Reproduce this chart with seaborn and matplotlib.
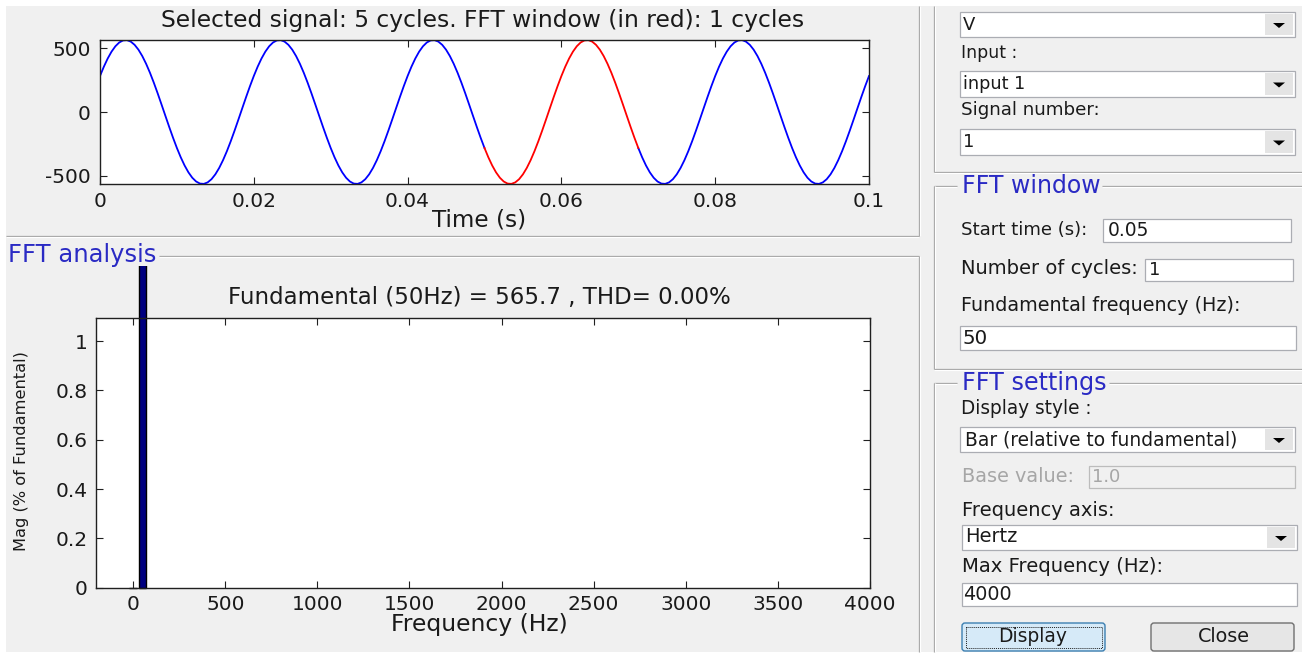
import numpy as np
import pandas as pd
import matplotlib
matplotlib.use("Agg")
import matplotlib.pyplot as plt
import seaborn as sns
from matplotlib.patches import Rectangle, FancyBboxPatch, Polygon
from matplotlib.transforms import Bbox, TransformedBbox

# ---------------- data ----------------
# one cycle of the 50 Hz signal sampled every 0.5 ms (V)
cycle_values = [282.9, 356.0, 420.4, 474.4, 516.8, 546.4, 562.6, 564.9, 553.3, 528.1,
                489.9, 439.6, 378.5, 308.1, 230.1, 146.4, 59.1, -29.6, -117.6, -202.7,
                -282.9, -356.0, -420.4, -474.4, -516.8, -546.4, -562.6, -564.9, -553.3, -528.1,
                -489.9, -439.6, -378.5, -308.1, -230.1, -146.4, -59.1, 29.6, 117.6, 202.7]
sample_step = 0.0005
n_cycles = 5
fundamental_hz = 50
fft_start = 0.05
fft_cycles = 1

fft_freqs = [0, 50]          # DC, fundamental
fft_mag = [0.0, 100.0]       # % of fundamental

time_ticks = [0, 0.02, 0.04, 0.06, 0.08, 0.1]
time_tick_labels = ["0", "0.02", "0.04", "0.06", "0.08", "0.1"]
volt_ticks = [-500, 0, 500]
volt_tick_labels = ["-500", "0", "500"]
freq_ticks = [0, 500, 1000, 1500, 2000, 2500, 3000, 3500, 4000]
freq_tick_labels = ["0", "500", "1000", "1500", "2000", "2500", "3000", "3500", "4000"]
mag_ticks = [0, 0.2, 0.4, 0.6, 0.8, 1]
mag_tick_labels = ["0", "0.2", "0.4", "0.6", "0.8", "1"]

top_title = "Selected signal: 5 cycles. FFT window (in red): 1 cycles"
bottom_title = "Fundamental (50Hz) = 565.7 , THD= 0.00%"

# ---------------- build tidy frame ----------------
signal = cycle_values * n_cycles + [cycle_values[0]]
t = np.arange(len(signal)) * sample_step
win_end = fft_start + fft_cycles / fundamental_hz
rows = []
for ti, vi in zip(t, signal):
    if ti <= fft_start + 1e-9:
        rows.append((ti, vi, "signal", 0))
    if fft_start - 1e-9 <= ti <= win_end + 1e-9:
        rows.append((ti, vi, "window", 1))
    if ti >= win_end - 1e-9:
        rows.append((ti, vi, "signal", 2))
df = pd.DataFrame(rows, columns=["t", "v", "part", "seg"])

# ---------------- figure ----------------
W, H = 1302, 653
fig = plt.figure(figsize=(W / 100, H / 100), dpi=100, facecolor="white")
renderer = fig.canvas.get_renderer()

bg = fig.add_axes([0, 0, 1, 1], zorder=-1)
bg.set_xlim(0, W)
bg.set_ylim(H, 0)
bg.axis("off")
bg.add_patch(Rectangle((6, 6), W - 6, 646, fc="#f0f0f0", ec="none"))

TXT = "#1a1a1a"
BLUE_T = "#2a2ac4"


def fit(txt, target, rotated=False):
    bb = txt.get_window_extent(renderer)
    cur = bb.height if rotated else bb.width
    txt.set_fontsize(txt.get_fontsize() * target / cur)


def label(x0, x1, yc, s, color=TXT, size=13):
    tx = bg.text(x0, yc, s, ha="left", va="center", color=color, fontsize=size)
    if x1 is not None:
        fit(tx, x1 - x0)
    return tx


def hline(x0, x1, y):
    bg.plot([x0, x1], [y, y], color="#a0a0a0", lw=0.9, solid_capstyle="butt")
    bg.plot([x0, x1], [y + 1.2, y + 1.2], color="white", lw=0.9, solid_capstyle="butt")


def vline(x, y0, y1):
    bg.plot([x, x], [y0, y1], color="#a0a0a0", lw=0.9, solid_capstyle="butt")
    bg.plot([x + 1.2, x + 1.2], [y0, y1], color="white", lw=0.9, solid_capstyle="butt")


def editbox(x0, y0, x1, y1, fc="white", ec="#abadb3"):
    bg.add_patch(Rectangle((x0, y0), x1 - x0, y1 - y0, fc=fc, ec=ec, lw=0.9))


def dropdown(x0, y0, x1, y1):
    editbox(x0, y0, x1, y1)
    bx0 = x1 - 30
    bg.add_patch(Rectangle((bx0, y0 + 2), x1 - 2 - bx0, y1 - y0 - 4, fc="#e4e4e4", ec="none"))
    cx = (bx0 + x1 - 2) / 2
    cy = (y0 + y1) / 2
    bg.add_patch(Polygon([[cx - 6, cy - 1.5], [cx + 6, cy - 1.5], [cx, cy + 3.5]],
                         closed=True, fc="black", ec="none"))


# panel borders
vline(919, 6, 236)
hline(6, 919, 236)
hline(159, 919, 256)
vline(919, 256, 652)
vline(934, 6, 172)
hline(934, 1302, 172)
hline(934, 957, 186)
hline(1102, 1302, 186)
vline(934, 186, 369)
hline(934, 1302, 369)
hline(934, 957, 383)
hline(1109, 1302, 383)
vline(934, 383, 652)

label(8, 156, 255, "FFT analysis", color=BLUE_T)
label(962, 1100, 186, "FFT window", color=BLUE_T)
label(962, 1106, 383, "FFT settings", color=BLUE_T)

# right-hand controls
dropdown(960, 12, 1295, 37)
label(963, None, 24.5, "V", size=13)
label(961, 1017, 53, "Input :")
dropdown(960, 71, 1295, 97)
label(963, 1025, 84, "input 1")
label(961, 1100, 110, "Signal number:")
dropdown(960, 129, 1295, 155)
label(963, None, 142, "1", size=13)

label(961, 1087, 230, "Start time (s):")
editbox(1103, 219, 1291, 242)
label(1108, 1149, 230.5, "0.05")
label(961, 1138, 269, "Number of cycles:")
editbox(1145, 259, 1293, 281)
label(1149, None, 270, "1", size=13)
label(961, 1240, 305.5, "Fundamental frequency (Hz):")
editbox(960, 326, 1296, 350)
label(963, 988, 338, "50")

label(961, 1092, 408, "Display style :")
dropdown(960, 427, 1295, 452)
label(965, 1237, 439.5, "Bar (relative to fundamental)")
label(962, 1074, 476, "Base value:", color="#a6a6a6")
editbox(1089, 466, 1295, 488, fc="#f0f0f0", ec="#bcbcbc")
label(1092, 1120, 477, "1.0", color="#a6a6a6")
label(962, 1114, 510, "Frequency axis:")
dropdown(962, 525, 1297, 550)
label(965, 1017, 537, "Hertz")
label(962, 1163, 566, "Max Frequency (Hz):")
editbox(962, 583, 1297, 606)
label(963, 1011, 594.5, "4000")

bg.add_patch(FancyBboxPatch((962, 623), 143, 28, boxstyle="round,pad=0,rounding_size=3",
                            fc="#d6eaf8", ec="#3c7fb1", lw=1.0))
bg.add_patch(Rectangle((965.5, 626.5), 136, 21, fill=False, ec="#202020",
                       ls=(0, (1, 1)), lw=0.7))
tx = bg.text(1032.5, 637, "Display", ha="center", va="center", color=TXT, fontsize=13)
fit(tx, 69)
bg.add_patch(FancyBboxPatch((1151, 623), 143, 28, boxstyle="round,pad=0,rounding_size=3",
                            fc="#e6e6e6", ec="#707070", lw=1.0))
tx = bg.text(1224, 637, "Close", ha="center", va="center", color=TXT, fontsize=13)
fit(tx, 52)

# ---------------- signal axes ----------------
def frac(x0, y0, x1, y1):
    return [x0 / W, 1 - y1 / H, (x1 - x0) / W, (y1 - y0) / H]


ax1 = fig.add_axes(frac(100, 40, 869, 184), zorder=1)
ax1.set_facecolor("white")
sns.lineplot(data=df, x="t", y="v", hue="part", units="seg", estimator=None,
             palette={"signal": "#0000ff", "window": "#ff0000"}, legend=False,
             sort=False, linewidth=1.3, ax=ax1)
ax1.set_xlim(0, 0.1)
ax1.set_ylim(-566, 566)
ax1.set_xticks(time_ticks, time_tick_labels)
ax1.set_yticks(volt_ticks, volt_tick_labels)
ax1.set_ylabel("")
ax1.set_xlabel("Time (s)", color=TXT)
ax1.xaxis.label.set_va("center")
ax1.xaxis.set_label_coords((479.2 - 100) / 769, (184 - 219.5) / 144)
ttl = ax1.set_title(top_title, color=TXT, pad=0, y=(184 - 20) / 144, va="center",
                    x=(483 - 100) / 769)

# ---------------- FFT axes ----------------
ax2 = fig.add_axes(frac(96.3, 317.7, 870, 587.7), zorder=1)
ax2.set_facecolor("white")
sns.barplot(x=fft_freqs, y=fft_mag, native_scale=True, color="#000080",
            edgecolor="black", linewidth=1.0, saturation=1, errorbar=None,
            width=0.8, ax=ax2)
ax2.set_xlim(-200, 4000)
ax2.set_ylim(0, 1.095)
ax2.set_xticks(freq_ticks, freq_tick_labels)
ax2.set_yticks(mag_ticks, mag_tick_labels)
ax2.set_xlabel("Frequency (Hz)", color=TXT)
ax2.xaxis.label.set_va("center")
ax2.xaxis.set_label_coords((479.4 - 96.3) / 773.7, (587.7 - 625) / 270)
ax2.set_ylabel("Mag (% of Fundamental)", color=TXT)
ax2.yaxis.label.set_va("center")
ax2.yaxis.label.set_ha("center")
ax2.yaxis.set_label_coords((21.7 - 96.3) / 773.7, (587.7 - 451.5) / 270)
ttl2 = ax2.set_title(bottom_title, color=TXT, pad=0, y=(587.7 - 297.3) / 270, va="center",
                     x=(479 - 96.3) / 773.7)

panel_clip = TransformedBbox(Bbox.from_extents(6 / W, 1 - 652 / H, 918 / W, 1 - 266 / H),
                             fig.transFigure)
for p in ax2.patches:
    p.set_clip_path(None)
    p.set_clip_box(panel_clip)

for ax, xpad in ((ax1, 6.0), (ax2, 5.0)):
    ax.tick_params(axis="both", direction="in", top=True, right=True, length=5,
                   width=0.8, colors="#202020", labelcolor=TXT, labelsize=14.5)
    ax.tick_params(axis="x", pad=xpad)
    ax.tick_params(axis="y", pad=6.5)
    for s in ax.spines.values():
        s.set_color("#202020")
        s.set_linewidth(1.0)

fig.canvas.draw()
fit(ttl, 642)
fit(ax1.xaxis.label, 94)
fit(ttl2, 499)
fit(ax2.xaxis.label, 177)
fit(ax2.yaxis.label, 200, rotated=True)

fig.savefig("out.png", dpi=100, facecolor="white")
